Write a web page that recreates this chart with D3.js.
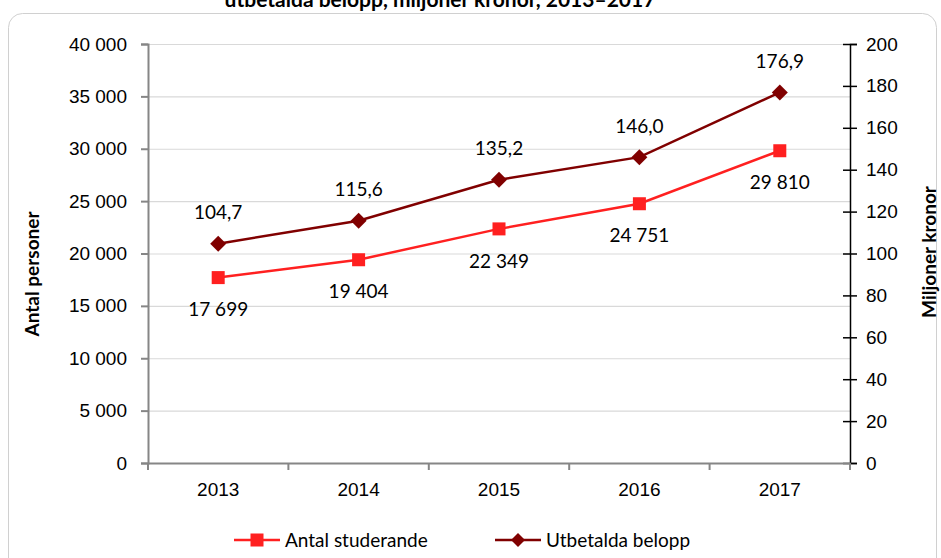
<!DOCTYPE html>
<html>
<head>
<meta charset="utf-8">
<script src="https://cdn.jsdelivr.net/npm/d3@7"></script>
<style>
    body { margin: 0; background: #fff; }
    svg { font-family: Lato, "Open Sans", sans-serif; }
</style>
</head>
<body>
<div id="chart"></div>
<script>
// data
const years = ["2013", "2014", "2015", "2016", "2017"];
const antalStuderande = [17699, 19404, 22349, 24751, 29810];
const utbetaldaBelopp = [104.7, 115.6, 135.2, 146.0, 176.9];
const leftTicks = [0, 5000, 10000, 15000, 20000, 25000, 30000, 35000, 40000];
const rightTicks = [0, 20, 40, 60, 80, 100, 120, 140, 160, 180, 200];

const WIDTH = 941, HEIGHT = 558;
const margin = {left: 148, right: 91, top: 44, bottom: 95};
const width = WIDTH - margin.left - margin.right;
const height = HEIGHT - margin.top - margin.bottom;

const red = "#ff2020", darkRed = "#800000";
const FS = "19px";

const svg = d3.select("#chart").append("svg")
    .attr("width", WIDTH)
    .attr("height", HEIGHT);

// title, cut off at the top like in the original
svg.append("text")
    .attr("x", 440).attr("y", 7)
    .attr("text-anchor", "middle")
    .style("font-weight", "bold").style("font-size", "21px")
    .text("utbetalda belopp, miljoner kronor, 2013–2017");

// chart frame
svg.append("rect")
    .attr("x", 8.5).attr("y", 13.5)
    .attr("width", 928).attr("height", 560)
    .attr("rx", 14)
    .attr("fill", "none").attr("stroke", "#d0d0d0");

const g = svg.append("g")
    .attr("transform", "translate(" + margin.left + "," + margin.top + ")");

const x = d3.scaleBand().domain(years).range([0, width]);
const yL = d3.scaleLinear().domain([0, 40000]).range([height, 0]);
const yR = d3.scaleLinear().domain([0, 200]).range([height, 0]);

const fmt = d => d3.format(",")(d).replace(/,/g, " ");
const fmtDec = d => d3.format(".1f")(d).replace(".", ",");

// gridlines
g.append("g").selectAll("line")
    .data(leftTicks.filter(d => d > 0))
    .join("line")
    .attr("x1", 0).attr("x2", width)
    .attr("y1", d => yL(d) + 0.5).attr("y2", d => yL(d) + 0.5)
    .attr("stroke", "#d9d9d9").attr("stroke-width", 1.2);

// left axis
const leftAxis = g.append("g")
    .call(d3.axisLeft(yL).tickValues(leftTicks).tickFormat(fmt).tickSize(7).tickPadding(14));
leftAxis.select(".domain").attr("stroke", "#868686").attr("stroke-width", 2);
leftAxis.selectAll(".tick line").attr("stroke", "#868686").attr("stroke-width", 2);
leftAxis.selectAll("text").style("font-size", FS).attr("fill", "#000");

// right axis
const rightAxis = g.append("g")
    .attr("transform", "translate(" + width + ",0)")
    .call(d3.axisRight(yR).tickValues(rightTicks).tickSize(7).tickPadding(9));
rightAxis.select(".domain").attr("stroke", "#000").attr("stroke-width", 1.5);
rightAxis.selectAll(".tick line").attr("x1", -7).attr("stroke", "#000").attr("stroke-width", 1.5);
rightAxis.selectAll("text").style("font-size", FS).attr("fill", "#000");

// x axis
const xAxis = g.append("g")
    .attr("transform", "translate(0," + height + ")")
    .call(d3.axisBottom(x).tickSize(0).tickPadding(20));
xAxis.select(".domain").attr("stroke", "#868686").attr("stroke-width", 2);
xAxis.selectAll("text").style("font-size", FS).attr("fill", "#000");
xAxis.append("g").selectAll("line")
    .data(years.map(d => x(d)).concat([width]))
    .join("line")
    .attr("x1", d => d).attr("x2", d => d)
    .attr("y1", 0).attr("y2", 7)
    .attr("stroke", "#868686").attr("stroke-width", 2);

const cx = d => x(d) + x.bandwidth() / 2;

// Antal studerande
g.append("path")
    .datum(antalStuderande)
    .attr("fill", "none").attr("stroke", red).attr("stroke-width", 2.5)
    .attr("d", d3.line().x((d, i) => cx(years[i])).y(d => yL(d)));
g.selectAll(".sq")
    .data(antalStuderande)
    .join("rect")
    .attr("class", "sq")
    .attr("x", (d, i) => cx(years[i]) - 6.5).attr("y", d => yL(d) - 6.5)
    .attr("width", 13).attr("height", 13)
    .attr("fill", red);
g.selectAll(".lblA")
    .data(antalStuderande)
    .join("text")
    .attr("class", "lblA")
    .attr("x", (d, i) => cx(years[i]))
    .attr("y", d => yL(d) + 32)
    .attr("dy", "0.35em")
    .attr("text-anchor", "middle")
    .style("font-size", FS)
    .text(fmt);

// Utbetalda belopp
g.append("path")
    .datum(utbetaldaBelopp)
    .attr("fill", "none").attr("stroke", darkRed).attr("stroke-width", 2.5)
    .attr("d", d3.line().x((d, i) => cx(years[i])).y(d => yR(d)));
g.selectAll(".dm")
    .data(utbetaldaBelopp)
    .join("path")
    .attr("class", "dm")
    .attr("transform", (d, i) => "translate(" + cx(years[i]) + "," + yR(d) + ")")
    .attr("d", "M0,-8L8,0L0,8L-8,0Z")
    .attr("fill", darkRed);
g.selectAll(".lblB")
    .data(utbetaldaBelopp)
    .join("text")
    .attr("class", "lblB")
    .attr("x", (d, i) => cx(years[i]))
    .attr("y", d => yR(d) - 31)
    .attr("dy", "0.35em")
    .attr("text-anchor", "middle")
    .style("font-size", FS)
    .text(fmtDec);

// axis titles
svg.append("text")
    .attr("transform", "translate(39,274) rotate(-90)")
    .attr("text-anchor", "middle")
    .style("font-weight", "bold").style("font-size", "19px")
    .text("Antal personer");
svg.append("text")
    .attr("transform", "translate(936,252) rotate(-90)")
    .attr("text-anchor", "middle")
    .style("font-weight", "bold").style("font-size", "19px")
    .text("Miljoner kronor");

// legend
const legend = svg.append("g").attr("transform", "translate(0,540)");
const items = [
    {name: "Antal studerande", color: red, x: 234, shape: "sq"},
    {name: "Utbetalda belopp", color: darkRed, x: 495, shape: "dm"}
];
items.forEach(it => {
    legend.append("line")
        .attr("x1", it.x).attr("x2", it.x + 46)
        .attr("stroke", it.color).attr("stroke-width", 2.5);
    if (it.shape === "sq") {
        legend.append("rect")
            .attr("x", it.x + 23 - 6.5).attr("y", -6.5)
            .attr("width", 13).attr("height", 13)
            .attr("fill", it.color);
    } else {
        legend.append("path")
            .attr("transform", "translate(" + (it.x + 23) + ",0)")
            .attr("d", "M0,-7L7,0L0,7L-7,0Z")
            .attr("fill", it.color);
    }
    legend.append("text")
        .attr("x", it.x + 51).attr("dy", "0.35em")
        .style("font-size", FS)
        .text(it.name);
});
</script>
</body>
</html>
